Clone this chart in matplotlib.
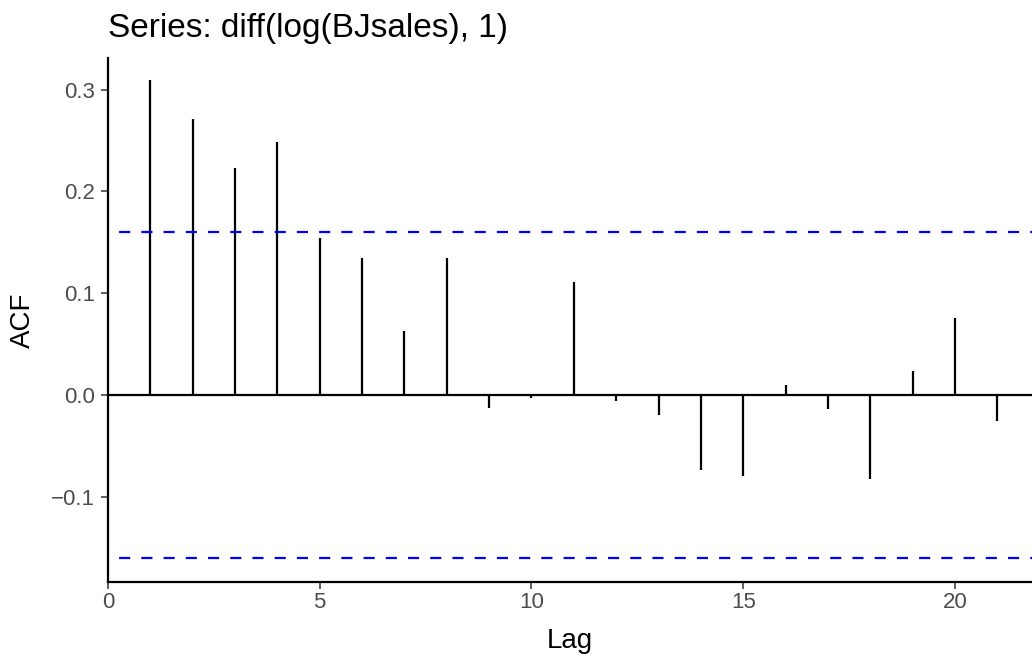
import matplotlib
matplotlib.use("Agg")
import matplotlib.pyplot as plt
from matplotlib.ticker import FuncFormatter

plt.rcParams['font.family'] = ['Liberation Sans', 'DejaVu Sans']

# Autocorrelation estimates of diff(log(BJsales), 1)
lags = list(range(1, 22))
acf_vals = [0.309, 0.271, 0.223, 0.248, 0.154, 0.134, 0.063, 0.134,
            -0.013, -0.003, 0.111, -0.006, -0.020, -0.074, -0.080,
            0.010, -0.014, -0.083, 0.023, 0.075, -0.026]
conf_bound = 0.160
x_ticks = [0, 5, 10, 15, 20]
y_ticks = [-0.1, 0.0, 0.1, 0.2, 0.3]

W, H = 1032, 656
fig = plt.figure(figsize=(W / 100, H / 100), dpi=100)
left, right, top, bottom = 108, 1032, 58, 582
ax = fig.add_axes([left / W, 1 - bottom / H, (right - left) / W, (bottom - top) / H])

ax.vlines(lags, 0, acf_vals, color='black', linewidth=1.6)
ax.axhline(0, color='black', linewidth=1.6)
dash = (5.0, (5.0, 5.0))
ax.axhline(conf_bound, color='#0000FF', linestyle=dash, linewidth=1.6)
ax.axhline(-conf_bound, color='#0000FF', linestyle=dash, linewidth=1.6)

ax.set_xlim(0, 21.82)
ax.set_ylim(-0.184, 0.331)
ax.set_xticks(x_ticks)
ax.set_yticks(y_ticks)
ax.yaxis.set_major_formatter(FuncFormatter(lambda v, p: f"{v:.1f}".replace('-', '\u2212')))

for side in ['top', 'right']:
    ax.spines[side].set_visible(False)
for side in ['left', 'bottom']:
    ax.spines[side].set_linewidth(1.6)
    ax.spines[side].set_color('black')

ax.tick_params(axis='both', direction='out', length=5, width=1.1, color='#333333',
               labelsize=16, labelcolor='#4D4D4D')
ax.tick_params(axis='y', pad=4.5)
ax.tick_params(axis='x', pad=2.5)

# Axis titles and plot title
fig.text((left + right) / 2 / W, 1 - 648 / H, 'Lag', fontsize=20, color='black',
         ha='center', va='baseline')
fig.text(23 / W, 1 - (top + bottom) / 2 / H, 'ACF', fontsize=20, color='black',
         ha='center', va='center', rotation=90)
fig.text(left / W, 1 - 37 / H, 'Series: diff(log(BJsales), 1)', fontsize=24,
         color='black', ha='left', va='baseline')

fig.savefig('out.png', dpi=100)
